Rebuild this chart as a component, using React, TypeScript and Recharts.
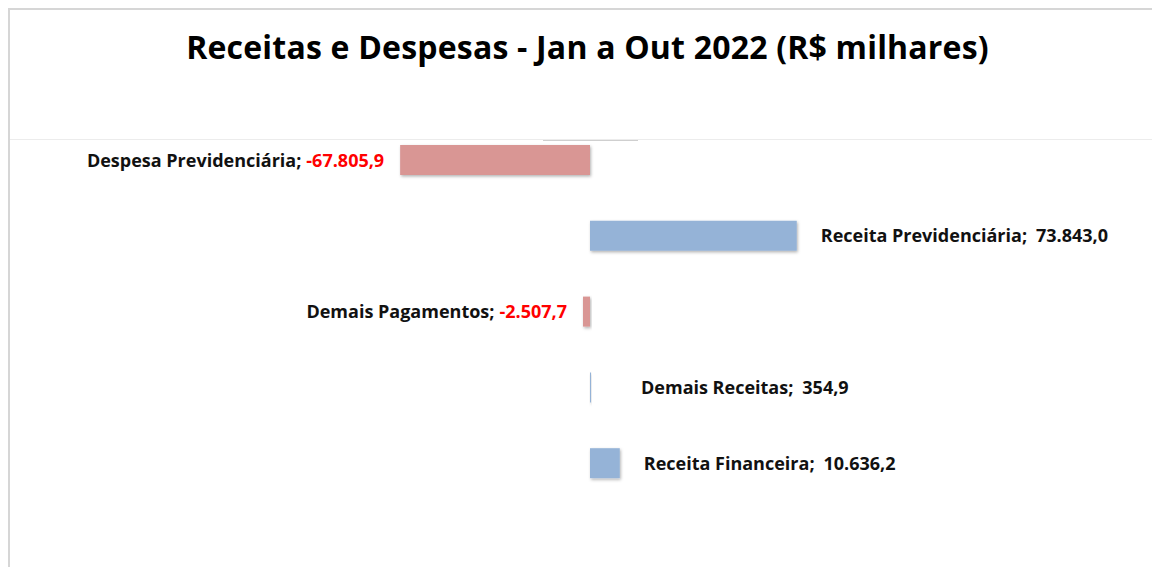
import React from 'react';
import { BarChart, Bar, XAxis, YAxis, Cell, LabelList } from 'recharts';

const categories = [
  'Despesa Previdenciária',
  'Receita Previdenciária',
  'Demais Pagamentos',
  'Demais Receitas',
  'Receita Financeira',
];
const values = [-67805.9, 73843.0, -2507.7, 354.9, 10636.2];

const data = categories.map((name, i) => ({ name, value: values[i] }));

const RED = '#D99694';
const BLUE = '#95B3D7';
const FONT = '"Open Sans", Lato, sans-serif';

// pt-BR style: 67.805,9
const fmt = (v: number) => {
  const neg = v < 0;
  const [int, dec] = Math.abs(v).toFixed(1).split('.');
  const grouped = int.replace(/\B(?=(\d{3})+(?!\d))/g, '.');
  return (neg ? '-' : '') + grouped + ',' + dec;
};

const renderLabel = (props: any) => {
  const { x, y, width, height, value, index } = props;
  const left = Math.min(x, x + width);
  const right = Math.max(x, x + width);
  const cy = y + height / 2;
  const name = categories[index];
  if (value < 0) {
    return (
      <text x={left - 16} y={cy} dy={6.5} textAnchor="end" fontFamily={FONT} fontWeight={700} fontSize={18} fill="#111">
        <tspan>{name};</tspan>
        <tspan dx={5} fill="#FF0000">{fmt(value)}</tspan>
      </text>
    );
  }
  const zero = right - Math.abs(width);
  const lx = Math.max(right + 24, zero + 51);
  return (
    <text x={lx} y={cy} dy={6.5} textAnchor="start" fontFamily={FONT} fontWeight={700} fontSize={18} fill="#111">
      <tspan>{name};</tspan>
      <tspan dx={9}>{fmt(value)}</tspan>
    </text>
  );
};

export default function App() {
  return (
    <div
      style={{
        position: 'relative',
        width: 1152,
        height: 559,
        boxSizing: 'border-box',
        borderTop: '2px solid #d6d6d6',
        borderLeft: '2px solid #d6d6d6',
        background: '#fff',
      }}
    >
      <div
        style={{
          position: 'absolute',
          left: 0,
          top: 18,
          width: 1155,
          textAlign: 'center',
          fontFamily: FONT,
          fontWeight: 700,
          fontSize: 32,
          letterSpacing: 0.2,
          lineHeight: '38px',
          color: '#000',
        }}
      >
        Receitas e Despesas - Jan a Out 2022 (R$ milhares)
      </div>
      <div style={{ position: 'absolute', left: 0, right: 0, top: 129, height: 1, background: '#ececec' }} />
      <div style={{ position: 'absolute', left: 533, width: 95, top: 130, height: 1, background: '#cfcfcf' }} />
      <div style={{ position: 'absolute', left: 0, top: 0 }}>
        <BarChart
          width={1150}
          height={557}
          data={data}
          layout="vertical"
          margin={{ top: 112, right: 10, bottom: 66, left: 20 }}
        >
          <defs>
            <filter id="barShadow" x="-20%" y="-30%" width="140%" height="160%">
              <feDropShadow dx={1} dy={1.5} stdDeviation={1.5} floodColor="#000" floodOpacity={0.3} />
            </filter>
          </defs>
          <XAxis type="number" domain={[-200000, 200000]} hide />
          <YAxis type="category" dataKey="name" hide />
          <Bar dataKey="value" barSize={30} isAnimationActive={false} filter="url(#barShadow)">
            {data.map((d, i) => (
              <Cell key={`c-${i}`} fill={d.value < 0 ? RED : BLUE} />
            ))}
            <LabelList dataKey="value" content={renderLabel} />
          </Bar>
        </BarChart>
      </div>
    </div>
  );
}
